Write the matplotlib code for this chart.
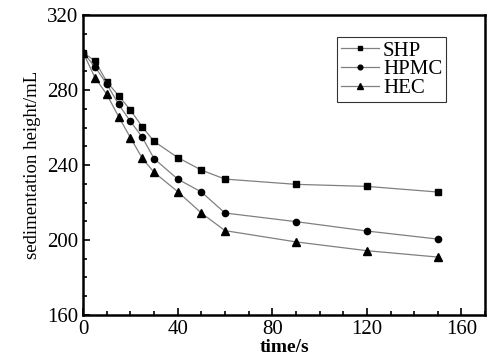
import matplotlib
matplotlib.use("Agg")
import matplotlib.pyplot as plt

t = [0, 5, 10, 15, 20, 25, 30, 40, 50, 60, 90, 120, 150]
shp = [300, 295.5, 284.4, 277, 269.3, 260.4, 252.6, 244, 237.3, 232.5, 229.7, 228.6, 225.6]
hpmc = [300, 292.4, 283.2, 272.4, 263.3, 254.8, 243.4, 232.5, 225.6, 214.4, 209.8, 204.8, 200.5]
hec = [300, 286.6, 277.7, 265.8, 254.6, 243.6, 236.1, 225.8, 214.4, 205, 199, 194.3, 190.9]

plt.rcParams['font.family'] = ['Liberation Serif', 'DejaVu Serif']

fig = plt.figure(figsize=(4.92, 3.59), dpi=100)
ax = fig.add_axes([0.169, 0.1226, 0.817, 0.8354])

lc = '#808080'
ax.plot(t, shp, color=lc, lw=0.9, marker='s', ms=4.5, mfc='black', mec='black', label='SHP')
ax.plot(t, hpmc, color=lc, lw=0.9, marker='o', ms=4.5, mfc='black', mec='black', label='HPMC')
ax.plot(t, hec, color=lc, lw=0.9, marker='^', ms=5.5, mfc='black', mec='black', label='HEC')

ax.set_xlim(0, 170)
ax.set_ylim(160, 320)
ax.set_xticks([0, 40, 80, 120, 160])
ax.set_yticks([160, 200, 240, 280, 320])
ax.set_xticks(range(0, 171, 10), minor=True)
ax.set_yticks(range(160, 321, 10), minor=True)
ax.tick_params(which='both', direction='in', top=False, right=False, labelsize=15, width=1.2)
ax.tick_params(which='major', length=5)
ax.tick_params(which='minor', length=3)
for s in ax.spines.values():
    s.set_linewidth(1.8)

ax.set_xlabel('time/s', fontsize=14, fontweight='bold', labelpad=0)
ax.set_ylabel('sedimentation height/mL', fontsize=13.5, labelpad=4)

leg = ax.legend(loc='upper left', bbox_to_anchor=(0.632, 0.927), borderaxespad=0,
                prop={'size': 15}, frameon=True, fancybox=False,
                edgecolor='black', handlelength=1.8, handletextpad=0.2,
                labelspacing=-0.05, borderpad=0.2, markerscale=0.75)
leg.get_frame().set_linewidth(0.8)

fig.savefig('out.png', dpi=100)
